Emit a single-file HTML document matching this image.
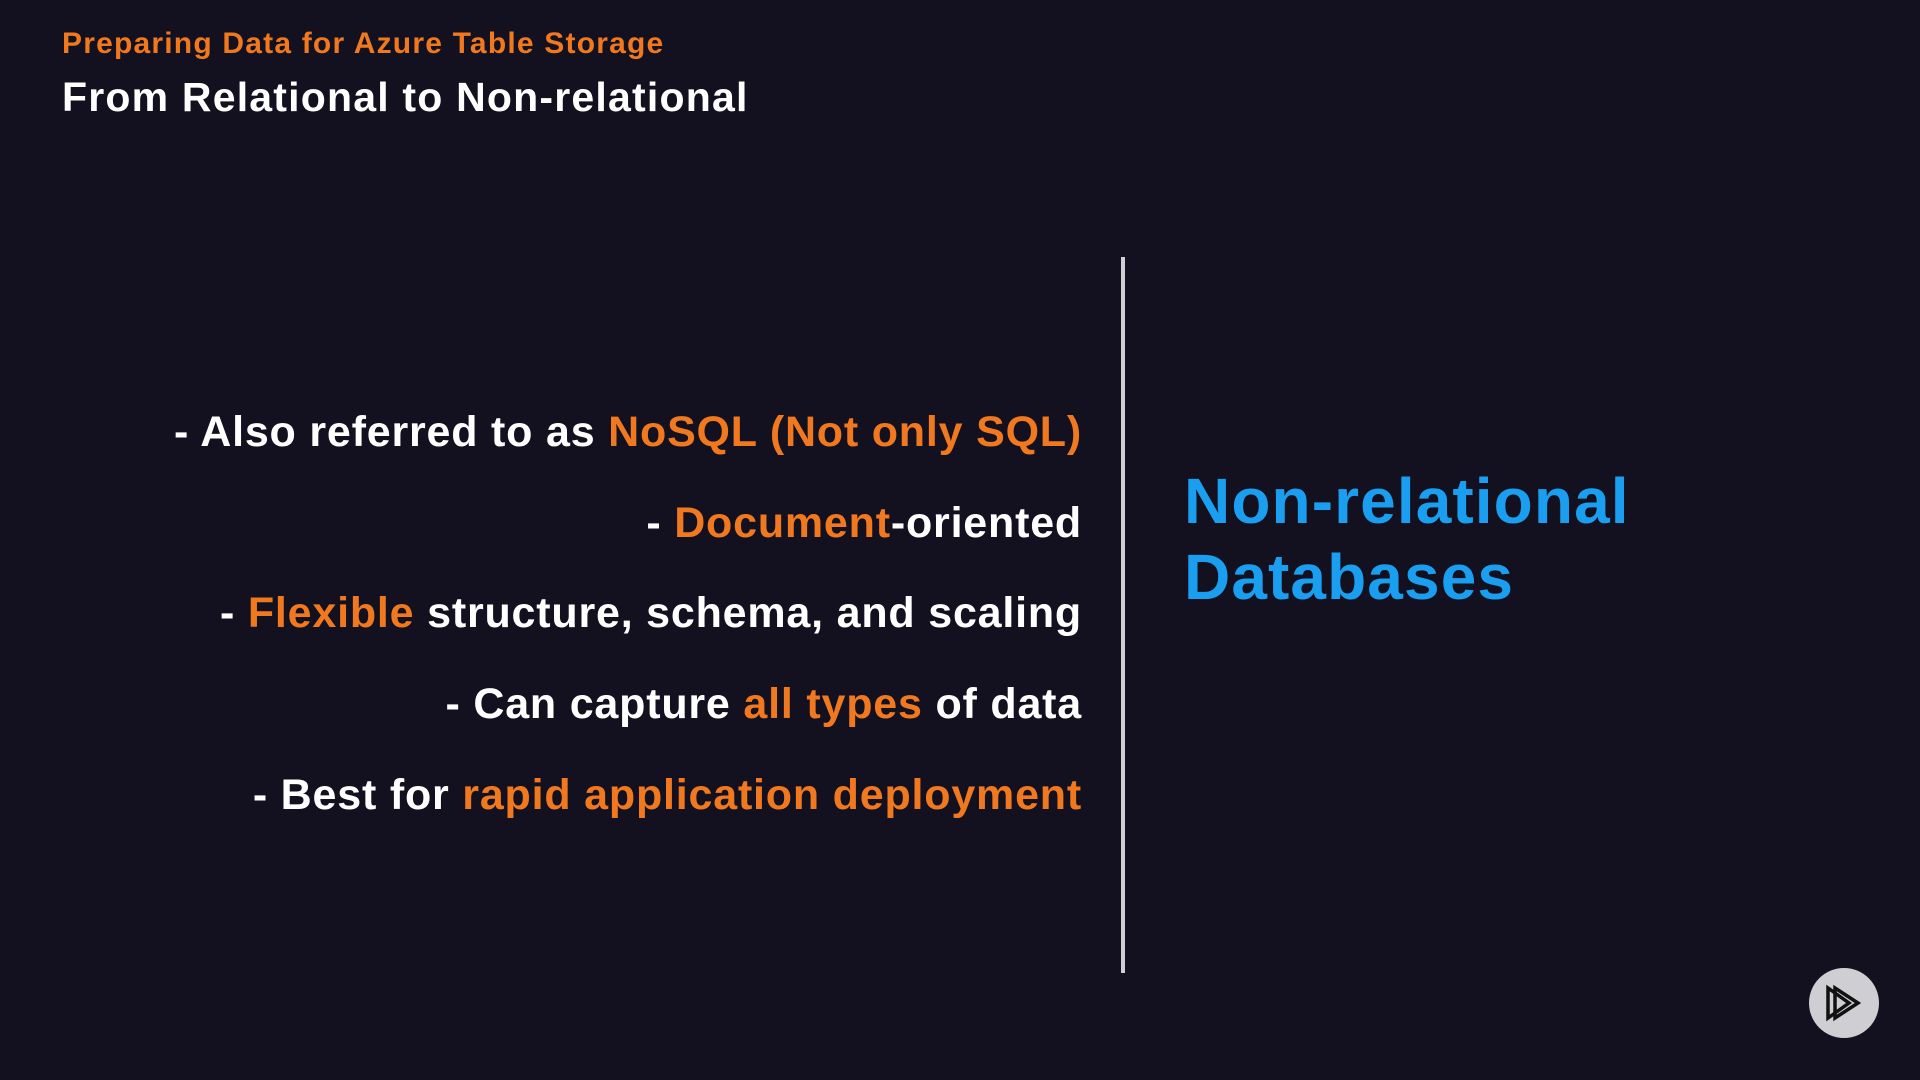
<!DOCTYPE html>
<html><head><meta charset="utf-8"><style>
html,body{margin:0;padding:0}
body{width:1920px;height:1080px;background:#13111f;position:relative;overflow:hidden;font-family:"Liberation Sans",sans-serif;font-weight:bold}
.sub{position:absolute;left:62px;top:27px;font-size:30px;color:#f0781e;letter-spacing:1.2px}
.title{position:absolute;left:62px;top:74px;font-size:41px;color:#fff;letter-spacing:1.2px}
.b{position:absolute;right:838px;font-size:43px;color:#fff;text-align:right;white-space:nowrap;letter-spacing:0.8px;line-height:50px}
.o{color:#f0781e}
.vl{position:absolute;left:1121px;top:257px;width:4px;height:716px;background:#cfcfd4}
.h{position:absolute;left:1184px;top:463px;font-size:64px;line-height:76px;color:#1a9ef0;letter-spacing:1.1px}
.logo{position:absolute;left:1809px;top:968px;width:70px;height:70px;border-radius:50%;background:#cfcfd3}
</style></head><body>
<div class="sub">Preparing Data for Azure Table Storage</div>
<div class="title">From Relational to Non-relational</div>
<div class="b" style="top:407px">- Also referred to as <span class="o">NoSQL (Not only SQL)</span></div>
<div class="b" style="top:498px">- <span class="o">Document</span>-oriented</div>
<div class="b" style="top:588px">- <span class="o">Flexible</span> structure, schema, and scaling</div>
<div class="b" style="top:679px">- Can capture <span class="o">all types</span> of data</div>
<div class="b" style="top:770px">- Best for <span class="o">rapid application deployment</span></div>
<div class="vl"></div>
<div class="h">Non-relational<br>Databases</div>
<div class="logo"><svg width="70" height="70" viewBox="0 0 70 70"><path d="M19 20 L19 50 L40 35 Z M26 20 L26 50 L49 35 Z" fill="none" stroke="#111" stroke-width="3.5" stroke-linejoin="miter"/></svg></div>
</body></html>
